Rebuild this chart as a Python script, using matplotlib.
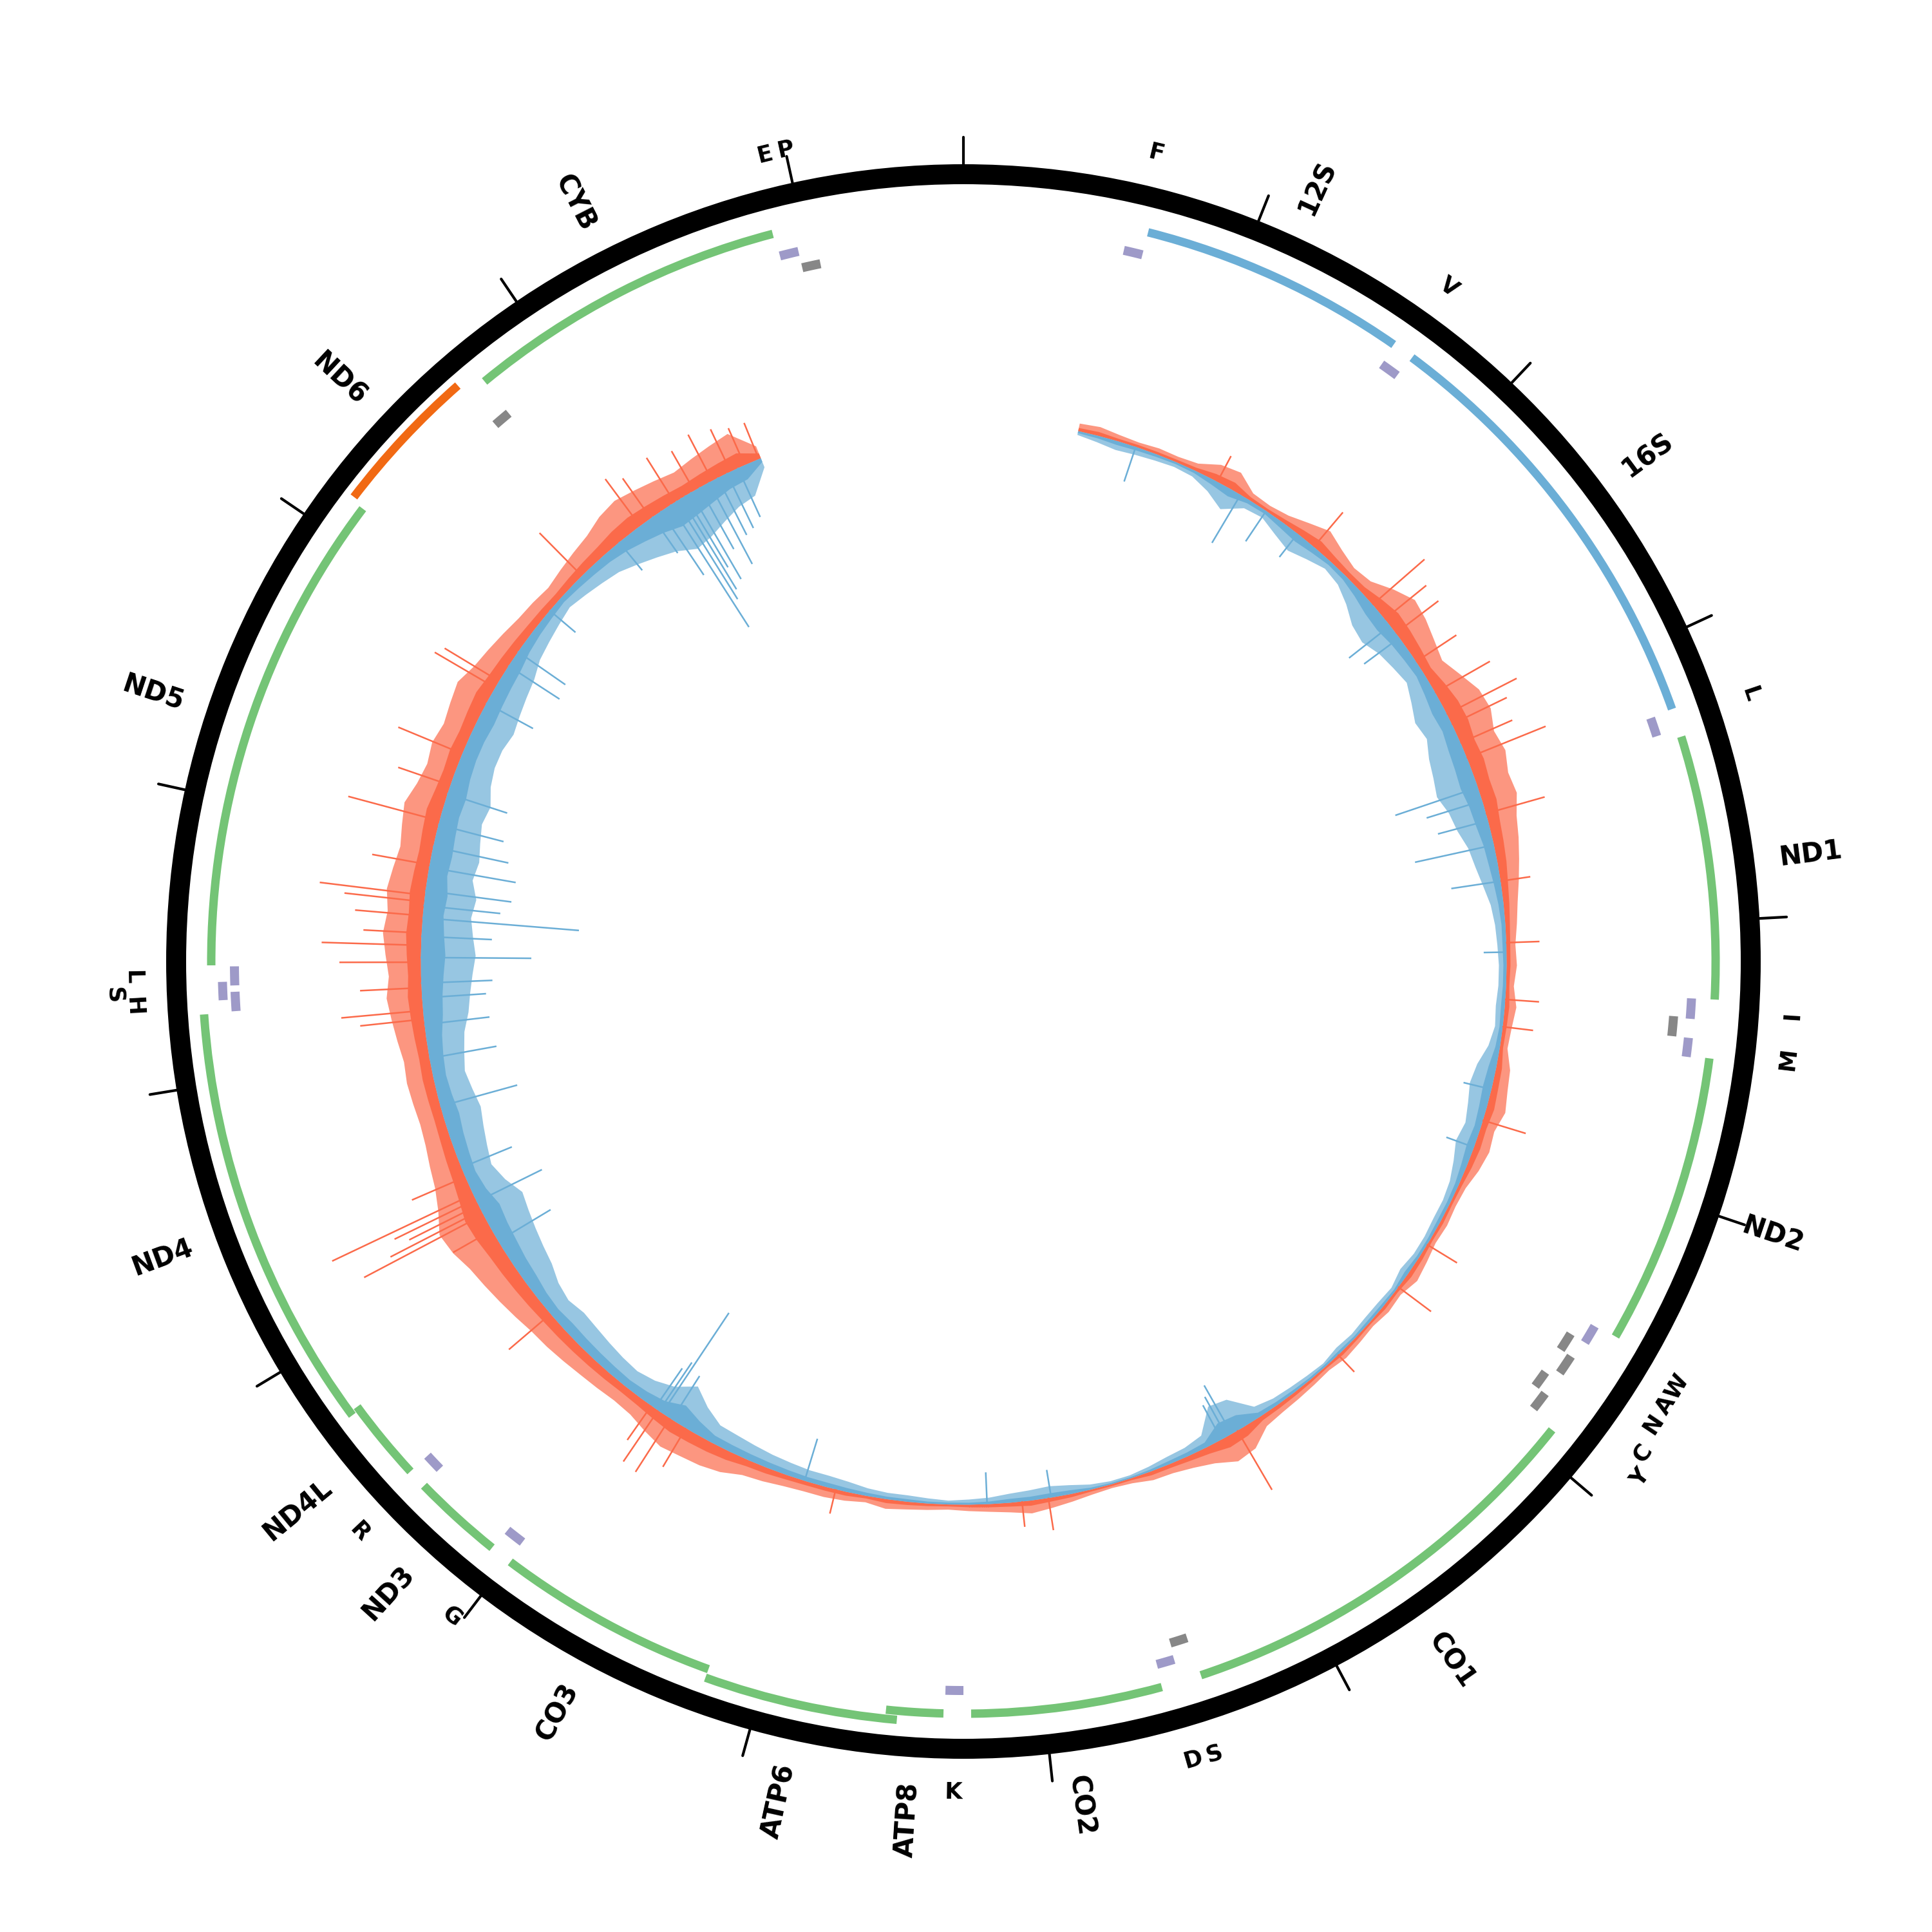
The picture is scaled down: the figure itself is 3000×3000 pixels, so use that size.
import numpy as np
import matplotlib
matplotlib.use("Agg")
import matplotlib.pyplot as plt

# genome length (bp), ticks every 1 kb
genome_len = 16570
tick_step = 1000

# annotated features (label shown, start, end, type, strand)
feat_name = ['F', '12S', 'V', '16S', 'L', 'ND1', 'I', '', 'M', 'ND2',
             'W', 'A', 'N', 'C', 'Y', 'CO1', 'S', 'D', 'CO2', 'K',
             'ATP8', 'ATP6', 'CO3', 'G', 'ND3', 'R', 'ND4L', 'ND4', 'H', 'S',
             'L', 'ND5', 'ND6', '', 'CYB', 'E', 'P']
feat_start = [585, 654, 1611, 1685, 3245, 3342, 4276, 4345, 4419, 4483,
              5524, 5593, 5662, 5763, 5827, 5915, 7443, 7512, 7581, 8285,
              8355, 8516, 9197, 9998, 10071, 10398, 10463, 10743, 12248, 12290,
              12341, 12414, 14145, 14679, 14750, 15899, 15968]
feat_end = [654, 1606, 1680, 3240, 3314, 4276, 4350, 4419, 4488, 5519,
            5593, 5662, 5735, 5827, 5896, 7438, 7508, 7577, 8258, 8350,
            8557, 9197, 9990, 10067, 10394, 10463, 10757, 12244, 12318, 12355,
            12410, 14131, 14670, 14744, 15894, 15968, 16037]
feat_type = ['tRNA', 'rRNA', 'tRNA', 'rRNA', 'tRNA', 'CDS', 'tRNA', 'tRNA', 'tRNA', 'CDS',
             'tRNA', 'tRNA', 'tRNA', 'tRNA', 'tRNA', 'CDS', 'tRNA', 'tRNA', 'CDS', 'tRNA',
             'CDS', 'CDS', 'CDS', 'tRNA', 'CDS', 'tRNA', 'CDS', 'CDS', 'tRNA', 'tRNA',
             'tRNA', 'CDS', 'CDS', 'tRNA', 'CDS', 'tRNA', 'tRNA']
feat_strand = ['+', '+', '+', '+', '+', '+', '+', '-', '+', '+',
               '+', '-', '-', '-', '-', '+', '-', '+', '+', '+',
               '+', '+', '+', '+', '+', '+', '+', '+', '+', '+',
               '+', '+', '-', '-', '+', '+', '-']

# depth track, one value per 100 bp bin starting at 560 bp
# *_core: solid part near the baseline, *_top: tips of the dense needles
cov_first = 560
cov_bin = 100
plus_top = [12, 14, 10, 8, 10, 9, 12, 26, 30, 12,
            10, 14, 24, 35, 25, 18, 22, 40, 55, 50,
            42, 35, 48, 62, 65, 55, 60, 52, 55, 45,
            40, 34, 28, 22, 18, 14, 16, 12, 18, 14,
            12, 22, 25, 30, 22, 25, 20, 12, 10, 12,
            10, 14, 18, 10, 12, 8, 10, 12, 8, 10,
            12, 14, 18, 38, 42, 28, 20, 15, 14, 8,
            6, 8, 12, 16, 20, 15, 12, 10, 8, 10,
            12, 15, 10, 14, 16, 16, 18, 22, 25, 35,
            40, 42, 45, 38, 30, 28, 30, 32, 35, 38,
            40, 45, 50, 55, 60, 70, 75, 60, 50, 45,
            40, 38, 40, 42, 40, 45, 50, 55, 50, 55,
            60, 55, 60, 55, 50, 55, 60, 50, 45, 50,
            45, 50, 55, 45, 40, 35, 30, 28, 25, 30,
            35, 40, 50, 55, 50, 45, 40, 45, 50, 55, 20]
plus_core = [5, 6, 4, 4, 4, 4, 5, 10, 12, 5,
             4, 6, 10, 14, 10, 8, 9, 16, 22, 20,
             17, 14, 20, 25, 26, 22, 24, 21, 22, 18,
             16, 14, 11, 9, 7, 6, 6, 5, 7, 6,
             5, 9, 10, 12, 9, 10, 8, 5, 4, 5,
             4, 6, 7, 4, 5, 3, 4, 5, 3, 4,
             5, 6, 7, 15, 17, 11, 8, 6, 6, 3,
             3, 3, 5, 6, 8, 6, 5, 4, 3, 4,
             5, 6, 4, 6, 6, 6, 7, 9, 10, 14,
             16, 17, 18, 15, 12, 11, 12, 13, 14, 15,
             16, 18, 20, 22, 24, 28, 30, 24, 20, 18,
             16, 15, 16, 17, 16, 18, 20, 22, 20, 22,
             24, 22, 24, 22, 20, 22, 24, 20, 18, 20,
             18, 20, 22, 18, 16, 14, 12, 11, 10, 12,
             14, 16, 20, 22, 20, 18, 16, 18, 20, 22, 8]
minus_top = [6, 10, 14, 12, 10, 8, 10, 20, 35, 15,
             12, 22, 30, 22, 14, 18, 30, 45, 50, 40,
             35, 30, 40, 50, 45, 55, 60, 65, 55, 50,
             40, 35, 28, 20, 16, 14, 12, 12, 14, 12,
             18, 30, 35, 30, 25, 30, 22, 15, 12, 12,
             10, 10, 14, 8, 10, 10, 8, 10, 6, 8,
             10, 12, 18, 50, 55, 20, 14, 12, 8, 5,
             5, 8, 14, 18, 16, 14, 10, 8, 6, 8,
             10, 10, 12, 16, 18, 18, 20, 22, 25, 28,
             30, 45, 65, 45, 35, 30, 32, 35, 38, 40,
             35, 40, 50, 55, 60, 65, 70, 55, 45, 50,
             55, 60, 55, 50, 55, 60, 70, 75, 80, 85,
             80, 75, 80, 70, 75, 70, 65, 70, 60, 55,
             55, 60, 55, 50, 45, 35, 30, 25, 20, 25,
             30, 35, 45, 55, 65, 80, 75, 65, 55, 50, 15]
minus_core = [3, 4, 6, 5, 4, 3, 4, 8, 12, 6,
              5, 9, 12, 9, 6, 7, 12, 18, 20, 16,
              14, 12, 16, 20, 18, 22, 24, 26, 22, 20,
              16, 14, 11, 8, 6, 6, 5, 5, 6, 5,
              7, 12, 14, 12, 10, 12, 9, 6, 5, 5,
              4, 4, 6, 3, 4, 4, 3, 4, 3, 3,
              4, 5, 7, 22, 25, 8, 6, 5, 3, 2,
              2, 3, 6, 7, 6, 6, 4, 3, 3, 3,
              4, 4, 5, 6, 7, 7, 8, 9, 10, 11,
              12, 20, 30, 18, 14, 12, 13, 14, 15, 16,
              14, 16, 20, 22, 25, 27, 30, 22, 18, 20,
              22, 25, 22, 20, 22, 25, 30, 32, 35, 38,
              35, 32, 35, 30, 32, 30, 28, 30, 26, 24,
              24, 26, 24, 22, 20, 15, 12, 10, 8, 10,
              12, 14, 18, 24, 30, 38, 35, 30, 24, 22, 6]

# isolated tall peaks
peak_plus_pos = [1284, 1850, 2251, 2343, 2430, 2776, 2895, 3130, 3415, 3751,
                 4051, 4327, 4460, 4925, 5588, 5837, 6278, 6891, 7871, 8911,
                 9791, 9860, 10564, 11061, 11148, 11172, 11259, 11351, 12147, 12189,
                 12424, 12506, 12566, 12718, 12750, 13119, 13464, 13823, 13860, 14513,
                 14886, 15089, 15475, 15550, 11200, 11230, 12300, 12650, 12900, 13300,
                 14950, 15200, 15300, 15400, 2600, 2950, 3050, 9700, 9900, 8000]
peak_plus_val = [45, 70, 107, 83, 83, 98, 122, 132, 95, 47,
                 52, 53, 48, 70, 55, 64, 37, 107, 51, 39,
                 99, 96, 85, 69, 209, 158, 242, 90, 99, 127,
                 126, 154, 90, 124, 164, 146, 107, 108, 98, 93,
                 90, 81, 62, 60, 120, 140, 95, 105, 90, 85,
                 75, 70, 80, 72, 75, 95, 88, 70, 65, 40]
peak_minus_pos = [852, 1413, 1560, 1749, 2384, 2458, 3282, 3572, 3751, 4097,
                  4769, 5063, 6923, 7857, 8170, 9068, 9837, 9855, 11218, 11715,
                  11954, 12120, 12322, 12447, 12640, 12773, 12888, 12990, 13257, 13736,
                  13947, 14030, 14283, 14757, 14960, 15066, 15126, 15181, 15282, 15439,
                  15010, 15100, 15150, 15230, 15330, 15380, 6950, 6980, 9780, 9880,
                  12250, 12550, 12700, 13100, 3350, 3450, 11000, 11400]
peak_minus_val = [57, 87, 57, 46, 81, 68, 135, 125, 77, 35,
                  44, 45, 86, 43, 49, 68, 187, 91, 113, 124,
                  106, 102, 111, 172, 244, 135, 137, 120, 98, 83,
                  95, 90, 53, 57, 69, 226, 166, 156, 144, 84,
                  120, 180, 130, 110, 100, 95, 70, 60, 80, 75,
                  100, 110, 120, 105, 90, 80, 95, 85]

# ---- layout (pixel radii on a 3000 px canvas) ----
R_RING_IN, R_RING_W = 1207, 31
R_TICK = (1238, 1280)
R_BASE = 843
gene_base = {'+': 1168, '-': 1190}
trna_base = {'+': 1132, '-': 1106}
GENE_STEP, TRNA_STEP = 14, 19
GENE_W, TRNA_W = 13, 14
R_GENE_LABEL = 1277
R_TRNA_LABEL = 1290
label_push = {5763: 12, 5827: 32, 12290: 30}

col_cds = {'+': '#74c476', '-': '#f16913'}
col_rrna = '#6baed6'
col_trna = {'+': '#9e9ac8', '-': '#878787'}
col_plus, col_minus = '#fb6a4a', '#6baed6'


def ang(bp):
    return 2 * np.pi * np.asarray(bp, dtype=float) / genome_len


def stack(idx, buf=5):
    ends, levels = [], {}
    for i in sorted(idx, key=lambda k: feat_start[k]):
        for lv, e in enumerate(ends):
            if feat_start[i] >= e + buf:
                ends[lv] = feat_end[i]
                levels[i] = lv
                break
        else:
            ends.append(feat_end[i])
            levels[i] = len(ends) - 1
    return levels


n = len(feat_name)
level = {}
for s in '+-':
    level.update(stack([i for i in range(n) if feat_type[i] != 'tRNA' and feat_strand[i] == s]))
    level.update(stack([i for i in range(n) if feat_type[i] == 'tRNA' and feat_strand[i] == s]))

fig = plt.figure(figsize=(10, 10), dpi=300)
ax = fig.add_axes([-0.00133, 0.00233, 1, 1], projection='polar')
ax.set_theta_zero_location('N')
ax.set_theta_direction(-1)
ax.set_ylim(0, 1500)
ax.set_axis_off()

# outer ring and kb ticks
ax.bar(0, R_RING_W, width=2 * np.pi, bottom=R_RING_IN, color='black', linewidth=0)
for t in ang(np.arange(0, genome_len, tick_step)):
    ax.plot([t, t], R_TICK, color='black', lw=1.0, solid_capstyle='round')

# features
for i in range(n):
    t0, t1 = ang(feat_start[i]), ang(feat_end[i])
    s = feat_strand[i]
    if feat_type[i] == 'tRNA':
        r, w, c = trna_base[s] + TRNA_STEP * level[i], TRNA_W, col_trna[s]
    else:
        r, w = gene_base[s] + GENE_STEP * level[i], GENE_W
        c = col_rrna if feat_type[i] == 'rRNA' else col_cds[s]
    ax.bar((t0 + t1) / 2, w, width=t1 - t0, bottom=r - w / 2, color=c, linewidth=0)

    if not feat_name[i]:
        continue
    mid = (feat_start[i] + feat_end[i]) / 2
    deg = 360 * mid / genome_len
    if feat_type[i] == 'tRNA':
        rot = -deg if (deg <= 90 or deg >= 270) else 180 - deg
        ax.text(ang(mid), R_TRNA_LABEL + label_push.get(feat_start[i], 0), feat_name[i],
                rotation=rot, rotation_mode='anchor', ha='center', va='center',
                fontsize=8.5, fontweight='bold')
    else:
        if deg <= 180:
            rot, ha = 90 - deg, 'left'
        else:
            rot, ha = 270 - deg, 'right'
        ax.text(ang(mid), R_GENE_LABEL, feat_name[i], rotation=rot, rotation_mode='anchor',
                ha=ha, va='center', fontsize=10, fontweight='bold')

# depth track: needle zone, solid core, tall peaks
pos = cov_first + cov_bin * np.arange(len(plus_top))
th = ang(pos)
ax.fill_between(th, R_BASE, R_BASE + np.array(plus_top), color=col_plus, alpha=0.7, linewidth=0)
ax.fill_between(th, R_BASE - np.array(minus_top), R_BASE, color=col_minus, alpha=0.7, linewidth=0)
ax.fill_between(th, R_BASE, R_BASE + np.array(plus_core), color=col_plus, linewidth=0)
ax.fill_between(th, R_BASE - np.array(minus_core), R_BASE, color=col_minus, linewidth=0)
ax.vlines(ang(peak_plus_pos), R_BASE, R_BASE + np.array(peak_plus_val), color=col_plus, lw=0.6)
ax.vlines(ang(peak_minus_pos), R_BASE - np.array(peak_minus_val), R_BASE, color=col_minus, lw=0.6)

fig.savefig('out.png', dpi=300, facecolor='white')
